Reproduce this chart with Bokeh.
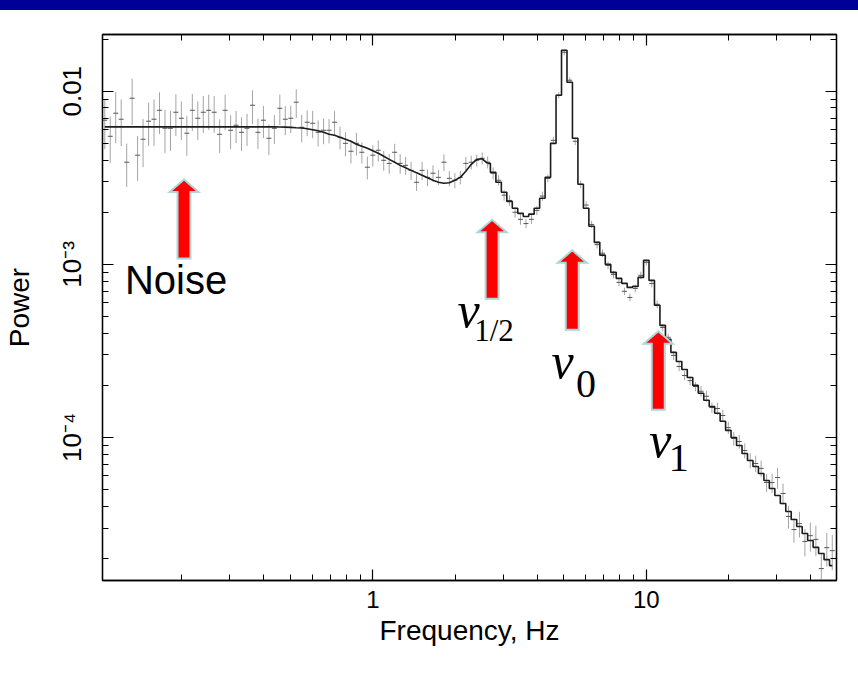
import math
from bokeh.plotting import figure
from bokeh.models import (LogAxis, Range1d, FixedTicker, Div, Label,
                          CustomJSTickFormatter)
from bokeh.layouts import column
from bokeh.embed import file_html
from bokeh.resources import INLINE

# ---------------- data ----------------
freq = [
    0.1047, 0.1096, 0.1148, 0.1202, 0.1259, 0.1318, 0.1380, 0.1445, 0.1514, 0.1585,
    0.1660, 0.1738, 0.1820, 0.1905, 0.1995, 0.2089, 0.2188, 0.2291, 0.2399, 0.2512,
    0.2630, 0.2754, 0.2884, 0.3020, 0.3162, 0.3311, 0.3467, 0.3631, 0.3802, 0.3981,
    0.4169, 0.4365, 0.4571, 0.4786, 0.5012, 0.5248, 0.5495, 0.5754, 0.6026, 0.6310,
    0.6607, 0.6918, 0.7244, 0.7586, 0.7943, 0.8318, 0.8710, 0.9120, 0.9550, 1.000,
    1.047, 1.096, 1.148, 1.202, 1.259, 1.318, 1.380, 1.445, 1.514, 1.585,
    1.660, 1.738, 1.820, 1.905, 1.995, 2.089, 2.188, 2.291, 2.399, 2.512,
    2.630, 2.754, 2.884, 3.020, 3.162, 3.311, 3.467, 3.631, 3.802, 3.981,
    4.169, 4.365, 4.571, 4.786, 5.012, 5.248, 5.495, 5.754, 6.026, 6.310,
    6.607, 6.918, 7.244, 7.586, 7.943, 8.318, 8.710, 9.120, 9.550, 10.00,
    10.47, 10.96, 11.48, 12.02, 12.59, 13.18, 13.80, 14.45, 15.14, 15.85,
    16.60, 17.38, 18.20, 19.05, 19.95, 20.89, 21.88, 22.91, 23.99, 25.12,
    26.30, 27.54, 28.84, 30.20, 31.62, 33.11, 34.67, 36.31, 38.02, 39.81,
    41.69, 43.65, 45.71, 47.86,
]

power = [
    6.80e-3, 5.49e-3, 7.46e-3, 6.89e-3, 3.89e-3, 9.11e-3, 4.27e-3, 5.28e-3, 6.71e-3, 6.89e-3,
    7.76e-3, 6.11e-3, 6.11e-3, 7.56e-3, 6.98e-3, 5.72e-3, 7.76e-3, 6.98e-3, 7.56e-3, 7.76e-3,
    7.56e-3, 5.64e-3, 7.76e-3, 5.95e-3, 6.36e-3, 5.79e-3, 6.11e-3, 8.30e-3, 5.79e-3, 6.80e-3,
    5.35e-3, 6.11e-3, 7.97e-3, 6.89e-3, 6.98e-3, 8.64e-3, 6.19e-3, 6.62e-3, 6.53e-3, 5.79e-3,
    5.95e-3, 5.95e-3, 6.62e-3, 5.42e-3, 5.00e-3, 4.50e-3, 5.00e-3, 4.44e-3, 3.64e-3, 4.27e-3,
    4.56e-3, 3.99e-3, 3.83e-3, 4.44e-3, 3.83e-3, 3.73e-3, 3.49e-3, 2.98e-3, 3.49e-3, 3.18e-3,
    3.36e-3, 3.18e-3, 3.89e-3, 3.14e-3, 3.06e-3, 3.18e-3, 3.83e-3, 3.89e-3, 3.99e-3, 4.10e-3,
    3.89e-3, 3.36e-3, 3.06e-3, 2.51e-3, 2.34e-3, 2.00e-3, 1.82e-3, 1.72e-3, 1.82e-3, 2.05e-3,
    2.48e-3, 3.14e-3, 5.20e-3, 9.48e-3, 1.68e-2, 1.157e-2, 5.14e-3, 2.90e-3, 2.20e-3, 1.70e-3,
    1.30e-3, 1.16e-3, 9.87e-4, 8.75e-4, 7.87e-4, 6.99e-4, 6.44e-4, 7.26e-4, 8.64e-4, 1.027e-3,
    7.76e-4, 5.88e-4, 4.32e-4, 3.79e-4, 2.98e-4, 2.57e-4, 2.28e-4, 2.13e-4, 1.97e-4, 1.85e-4,
    1.73e-4, 1.49e-4, 1.47e-4, 1.34e-4, 1.14e-4, 9.87e-5, 9.48e-5, 8.41e-5, 7.37e-5, 7.08e-5,
    6.63e-5, 5.50e-5, 5.49e-5, 5.87e-5, 4.75e-5, 3.50e-5, 2.94e-5, 3.18e-5, 2.51e-5, 2.71e-5,
    2.58e-5, 1.75e-5, 2.31e-5, 2.22e-5,
]

rel_err = [
    0.32, 0.30, 0.33, 0.30, 0.28, 0.30, 0.29, 0.31, 0.28, 0.30,
    0.27, 0.28, 0.26, 0.27, 0.25, 0.26, 0.24, 0.25, 0.24, 0.23,
    0.24, 0.22, 0.23, 0.22, 0.21, 0.22, 0.21, 0.22, 0.20, 0.21,
    0.20, 0.19, 0.20, 0.19, 0.18, 0.19, 0.18, 0.17, 0.18, 0.17,
    0.17, 0.16, 0.16, 0.15, 0.16, 0.15, 0.15, 0.14, 0.15, 0.14,
    0.14, 0.13, 0.13, 0.12, 0.13, 0.12, 0.12, 0.11, 0.12, 0.11,
    0.11, 0.10, 0.11, 0.10, 0.10, 0.09, 0.09, 0.09, 0.08, 0.08,
    0.08, 0.08, 0.07, 0.07, 0.07, 0.07, 0.07, 0.06, 0.06, 0.06,
    0.06, 0.05, 0.05, 0.04, 0.04, 0.04, 0.05, 0.05, 0.05, 0.05,
    0.05, 0.05, 0.05, 0.05, 0.05, 0.05, 0.05, 0.05, 0.05, 0.04,
    0.05, 0.05, 0.05, 0.05, 0.06, 0.06, 0.06, 0.06, 0.06, 0.07,
    0.07, 0.07, 0.08, 0.08, 0.08, 0.09, 0.09, 0.10, 0.10, 0.11,
    0.11, 0.12, 0.13, 0.14, 0.14, 0.15, 0.16, 0.17, 0.18, 0.19,
    0.20, 0.21, 0.22, 0.23,
]

model = [
    6.22e-3, 6.22e-3, 6.22e-3, 6.22e-3, 6.22e-3, 6.22e-3, 6.22e-3, 6.22e-3, 6.22e-3, 6.22e-3,
    6.22e-3, 6.22e-3, 6.22e-3, 6.22e-3, 6.22e-3, 6.22e-3, 6.22e-3, 6.22e-3, 6.22e-3, 6.22e-3,
    6.22e-3, 6.22e-3, 6.22e-3, 6.22e-3, 6.22e-3, 6.22e-3, 6.22e-3, 6.22e-3, 6.22e-3, 6.22e-3,
    6.22e-3, 6.22e-3, 6.21e-3, 6.20e-3, 6.18e-3, 6.15e-3, 6.13e-3, 6.07e-3, 5.99e-3, 5.91e-3,
    5.79e-3, 5.64e-3, 5.57e-3, 5.42e-3, 5.28e-3, 5.14e-3, 4.94e-3, 4.81e-3, 4.68e-3, 4.53e-3,
    4.38e-3, 4.21e-3, 4.04e-3, 3.89e-3, 3.73e-3, 3.61e-3, 3.49e-3, 3.38e-3, 3.27e-3, 3.16e-3,
    3.06e-3, 2.98e-3, 2.94e-3, 2.96e-3, 3.06e-3, 3.18e-3, 3.45e-3, 3.78e-3, 4.04e-3, 4.07e-3,
    3.83e-3, 3.40e-3, 2.98e-3, 2.61e-3, 2.31e-3, 2.11e-3, 1.97e-3, 1.89e-3, 1.95e-3, 2.11e-3,
    2.41e-3, 3.18e-3, 5.00e-3, 9.48e-3, 1.725e-2, 1.127e-2, 5.35e-3, 2.90e-3, 2.11e-3, 1.66e-3,
    1.34e-3, 1.13e-3, 1.00e-3, 8.99e-4, 8.30e-4, 7.77e-4, 7.36e-4, 7.46e-4, 8.41e-4, 1.055e-3,
    8.08e-4, 5.80e-4, 4.44e-4, 3.69e-4, 3.10e-4, 2.75e-4, 2.47e-4, 2.22e-4, 2.00e-4, 1.80e-4,
    1.64e-4, 1.51e-4, 1.38e-4, 1.24e-4, 1.10e-4, 1.00e-4, 8.99e-5, 8.08e-5, 7.37e-5, 6.80e-5,
    6.20e-5, 5.65e-5, 5.07e-5, 4.62e-5, 4.16e-5, 3.74e-5, 3.36e-5, 3.06e-5, 2.79e-5, 2.54e-5,
    2.32e-5, 2.14e-5, 1.97e-5, 1.82e-5,
]

# annotation arrows (frequency, tip power, tail power)
arrow_freq = [0.204, 2.73, 5.36, 11.06]
arrow_tip = [3.09e-3, 1.81e-3, 1.205e-3, 4.11e-4]
arrow_tail = [1.08e-3, 6.32e-4, 4.19e-4, 1.445e-4]

# tick labels
x_ticks = [1, 10]
x_tick_labels = ["1", "10"]
y_ticks = [1e-4, 1e-3, 1e-2]
y_tick_labels = ["10\u207b\u2074", "10\u207b\u00b3", "0.01"]

# ---------------- figure ----------------
X0, X1 = 0.1027, 49.6
Y0, Y1 = 1.493e-5, 0.02126
FW, FH = 735, 546

p = figure(width=858, height=664, x_axis_type="log", y_axis_type="log",
           x_range=Range1d(X0, X1), y_range=Range1d(Y0, Y1),
           output_backend="svg", toolbar_location=None,
           min_border_left=101, min_border_right=22,
           min_border_top=24, min_border_bottom=94)
p.grid.visible = False
p.outline_line_color = "black"
p.outline_line_width = 1.3
p.background_fill_color = "white"
p.border_fill_color = "white"

xminor = [m * 10.0 ** e for e in range(-1, 2) for m in range(2, 10)]
yminor = [m * 10.0 ** e for e in range(-5, -1) for m in range(2, 10)]
xt = FixedTicker(ticks=x_ticks, minor_ticks=xminor)
yt = FixedTicker(ticks=y_ticks, minor_ticks=yminor)

fmt_code = """
let best = 0, d = 1e9;
for (let i = 0; i < vals.length; i++) {
  const dd = Math.abs(Math.log10(tick) - Math.log10(vals[i]));
  if (dd < d) { d = dd; best = i; }
}
return d < 0.01 ? labs[best] : "";
"""
xfmt = CustomJSTickFormatter(args=dict(vals=x_ticks, labs=x_tick_labels), code=fmt_code)
yfmt = CustomJSTickFormatter(args=dict(vals=y_ticks, labs=y_tick_labels), code=fmt_code)
blank = CustomJSTickFormatter(code="return '';")

def style_axis(ax):
    ax.axis_line_color = "black"
    ax.axis_line_width = 1.3
    ax.major_tick_in = 11
    ax.major_tick_out = 0
    ax.minor_tick_in = 6
    ax.minor_tick_out = 0
    ax.major_tick_line_color = "black"
    ax.minor_tick_line_color = "black"
    ax.major_tick_line_width = 1.2
    ax.minor_tick_line_width = 1.0
    ax.major_label_text_font = "Liberation Sans"
    ax.major_label_text_font_size = "24px"
    ax.major_label_text_color = "black"
    ax.axis_label_text_font = "Liberation Sans"
    ax.axis_label_text_font_size = "28px"
    ax.axis_label_text_font_style = "normal"
    ax.axis_label_text_color = "black"

xa = p.xaxis[0]
xa.ticker = xt
xa.formatter = xfmt
style_axis(xa)
xa.axis_label = "Frequency, Hz"
xa.major_label_standoff = 10
xa.axis_label_standoff = 4

ya = p.yaxis[0]
ya.ticker = yt
ya.formatter = yfmt
style_axis(ya)
ya.major_label_text_font_size = "26px"
ya.axis_label = "Power"
ya.major_label_orientation = "parallel"
ya.major_label_standoff = 15
ya.axis_label_standoff = 20

top = LogAxis(ticker=xt, formatter=blank)
style_axis(top)
top.major_label_standoff = 0
p.add_layout(top, "above")

right = LogAxis(ticker=yt, formatter=blank)
style_axis(right)
right.major_label_standoff = 0
p.add_layout(right, "right")

# error bars and data points
lo = [v * (1 - e) for v, e in zip(power, rel_err)]
hi = [v * (1 + e) for v, e in zip(power, rel_err)]
p.segment(x0=freq, x1=freq, y0=lo, y1=hi, line_color="#a4a4a4", line_width=1)
p.scatter(freq, power, marker="dash", size=5, line_color="#555555", line_width=1)

# model: smooth at low frequency, histogram-like above
n_smooth = 71
p.line(freq[:n_smooth], model[:n_smooth], line_color="#1c1c1c", line_width=1.6)
p.step(freq[n_smooth - 1:], model[n_smooth - 1:], mode="center",
       line_color="#1c1c1c", line_width=1.6)

# arrows
kx = (math.log10(X1) - math.log10(X0)) / FW
ky = (math.log10(Y1) - math.log10(Y0)) / FH
head_len, head_half, shaft_half = 12.5, 14.5, 6.5
axs, ays = [], []
for f, tip, tail in zip(arrow_freq, arrow_tip, arrow_tail):
    lf, lt, ll = math.log10(f), math.log10(tip), math.log10(tail)
    lb = lt - head_len * ky
    px = [lf, lf + head_half * kx, lf + shaft_half * kx, lf + shaft_half * kx,
          lf - shaft_half * kx, lf - shaft_half * kx, lf - head_half * kx]
    py = [lt, lb, lb, ll, ll, lb, lb]
    axs.append([10 ** v for v in px])
    ays.append([10 ** v for v in py])
p.patches(axs, ays, fill_color="#ff0000", line_color="#a6d8dc", line_width=2,
          line_join="miter")

# text labels
LIFT = 14
p.add_layout(Label(x=0.1241, y=6.77e-4, text="Noise", text_font="Liberation Sans",
                   text_font_size="40px", text_color="black",
                   text_baseline="alphabetic", y_offset=LIFT))

nu_x = [2.038, 4.50, 10.25]
nu_y = [4.54e-4, 2.283e-4, 8.05e-5]
sub_x = [2.349, 5.53, 12.08]
sub_y = [3.555e-4, 1.748e-4, 6.45e-5]
sub_text = ["1/2", "0", "1"]
sub_size = ["31px", "40px", "40px"]
for vx, vy, sx, sy, st, ss in zip(nu_x, nu_y, sub_x, sub_y, sub_text, sub_size):
    p.add_layout(Label(x=vx, y=vy, text="v", text_font="Liberation Serif",
                       text_font_style="italic", text_font_size="50px",
                       text_color="black", text_baseline="alphabetic",
                       y_offset=LIFT))
    p.add_layout(Label(x=sx, y=sy, text=st, text_font="Liberation Serif",
                       text_font_size=ss, text_color="black",
                       text_baseline="alphabetic", y_offset=LIFT - 2))

bar = Div(text="", width=858, height=10, margin=(0, 0, 0, 0),
          styles={"background-color": "#000099"})
layout = column(bar, p, spacing=0)

open("out.html", "w").write(file_html(layout, INLINE))
